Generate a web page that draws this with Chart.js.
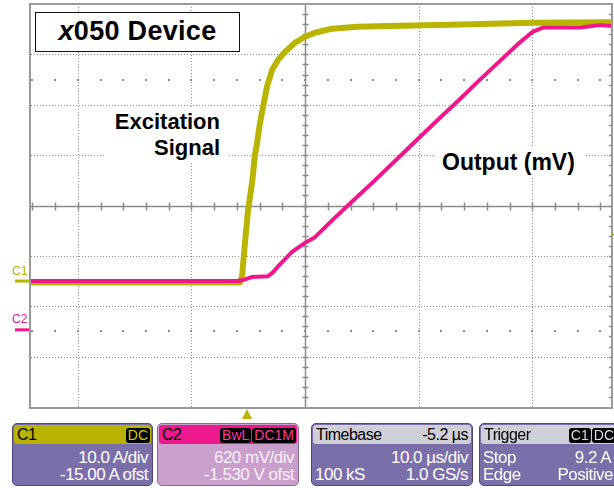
<!DOCTYPE html>
<html>
<head>
<meta charset="utf-8">
<script src="https://cdn.jsdelivr.net/npm/chart.js@4"></script>
<style>
  html,body{margin:0;padding:0;background:#fff;}
  body{width:614px;height:488px;overflow:hidden;position:relative;font-family:"Liberation Sans",Arial,sans-serif;}
  #c{position:absolute;left:0;top:0;}
  .ann{position:absolute;background:#fff;color:#000;font-weight:bold;white-space:nowrap;}
  #title{left:35px;top:12px;width:205px;height:40px;box-sizing:border-box;border:1.5px solid #111;text-align:center;font-size:27px;line-height:37px;letter-spacing:0.3px;}
  #title i{font-style:italic;}
  #exc{left:105px;top:109px;width:123px;height:53px;text-align:right;font-size:22px;line-height:26px;box-sizing:border-box;padding-right:8px;}
  #out{left:435px;top:148px;width:149px;height:28px;font-size:23px;line-height:28px;box-sizing:border-box;padding-left:7px;}
  .panel{position:absolute;top:423px;height:63px;border-radius:5px;box-sizing:border-box;border:1px solid #4f4580;overflow:hidden;color:#fff;font-size:17px;letter-spacing:-0.5px;background:#7b6faa;}
  .hdr{position:absolute;left:1px;right:1px;top:1px;height:19px;border-radius:3px;color:#000;font-size:16px;line-height:19px;}
  .hdr .l{position:absolute;left:3px;top:0;}
  .hdr .r{position:absolute;right:1px;top:0;}
  .badge{display:inline-block;background:#000;border-radius:3px;height:15px;line-height:15px;margin-top:2px;padding:0 2px;font-size:14px;letter-spacing:0;margin-left:1px;}
  .row{position:absolute;left:3px;right:4px;height:17px;line-height:17px;white-space:nowrap;}
  .row .l{position:absolute;left:0;}
  .row .r{position:absolute;right:0;}
</style>
</head>
<body>
<canvas id="c" width="614" height="488"></canvas>

<div class="ann" id="title"><i>x</i>050 Device</div>
<div class="ann" id="exc">Excitation<br>Signal</div>
<div class="ann" id="out">Output (mV)</div>

<div class="panel" style="left:12px;width:141px;">
  <div class="hdr" style="background:#b7b300;"><span class="l">C1</span><span class="r"><span class="badge" style="color:#d4d000;">DC</span></span></div>
  <div class="row" style="top:25px;"><span class="r">10.0 A/div</span></div>
  <div class="row" style="top:42px;"><span class="r">-15.00 A ofst</span></div>
</div>
<div class="panel" style="left:157px;width:142px;background:#c9a0cc;border-color:#8a6a95;">
  <div class="hdr" style="background:#ec1a8c;"><span class="l">C2</span><span class="r"><span class="badge" style="color:#ff3aa0;">BwL</span><span class="badge" style="color:#ff3aa0;">DC1M</span></span></div>
  <div class="row" style="top:25px;color:#fbeefb;"><span class="r">620 mV/div</span></div>
  <div class="row" style="top:42px;color:#fbeefb;"><span class="r">-1.530 V ofst</span></div>
</div>
<div class="panel" style="left:311px;width:162px;">
  <div class="hdr" style="background:#cfcfd8;"><span class="l">Timebase</span><span class="r" style="right:3px;">-5.2 µs</span></div>
  <div class="row" style="top:25px;"><span class="r">10.0 µs/div</span></div>
  <div class="row" style="top:42px;"><span class="l">100 kS</span><span class="r">1.0 GS/s</span></div>
</div>
<div class="panel" style="left:479px;width:142px;">
  <div class="hdr" style="background:#cfcfd8;"><span class="l">Trigger</span><span class="r" style="right:3px;"><span class="badge" style="color:#ddd;">C1</span><span class="badge" style="color:#ddd;">DC</span></span></div>
  <div class="row" style="top:25px;"><span class="l">Stop</span><span class="r" style="right:5px;">9.2 A</span></div>
  <div class="row" style="top:42px;"><span class="l">Edge</span><span class="r" style="right:3px;">Positive</span></div>
</div>

<script>
// ---- data (time in µs relative to trigger, C1 in A, C2 in V) ----
const c1TimeUs = [-18.93, -0.53, -0.35, -0.09, 0.18, 0.53, 0.79, 0.97, 1.23, 1.50, 1.85, 2.29, 2.82, 3.43, 4.31, 5.19, 6.07, 7.57, 9.77, 13.56, 17.96, 25.26, 32.22];
const c1Amps   = [-0.3, -0.3, 0.9, 7.6, 14.1, 19.5, 25.1, 27.4, 31.4, 34.6, 38.6, 41.9, 43.9, 45.5, 47.3, 48.5, 49.3, 50.1, 50.5, 50.7, 50.9, 51.3, 51.4];
const c2TimeUs = [-18.93, -0.70, -0.09, 0.53, 1.94, 2.38, 2.82, 4.05, 5.19, 6.07, 7.83, 9.51, 11.27, 12.68, 15.05, 17.08, 18.84, 20.60, 22.36, 24.12, 25.26, 26.14, 29.40, 31.16, 32.22];
const c2Volts  = [0.60, 0.60, 0.62, 0.65, 0.66, 0.71, 0.78, 0.96, 1.07, 1.14, 1.38, 1.60, 1.83, 2.02, 2.34, 2.61, 2.84, 3.08, 3.31, 3.54, 3.67, 3.72, 3.72, 3.75, 3.74];

// scale / grid values
const timeRangeUs = [-18.93, 32.22];
const ampRange = [-25, 55];          // 10 A/div, -15 A offset
const voltRange = [-0.95, 4.01];     // 620 mV/div, -1.530 V offset
const centerTimeUs = 5.2;
const centerAmps = 15;
const timeGridUs = [-14.8, -4.8, 15.2, 25.2];
const ampGrid = [-15, -5, 5, 25, 35, 45];
const ampDotRows = [-10, 40];
const triggerTimeUs = 0;
const triggerLevelA = 9.2;

const YEL = '#b8b400';
const PINK = '#f2168b';
const GRID = '#8a8a8a';

const scopeGrid = {
  id: 'scopeGrid',
  beforeDatasetsDraw(chart) {
    const {ctx, chartArea: a, scales} = chart;
    const x = scales.x, yA = scales.yA;
    ctx.save();
    ctx.fillStyle = '#fff';
    ctx.fillRect(a.left, a.top, a.right - a.left, a.bottom - a.top);
    ctx.strokeStyle = GRID;
    ctx.lineWidth = 1;
    ctx.setLineDash([1, 2]);
    timeGridUs.forEach(t => {
      const px = Math.round(x.getPixelForValue(t)) + 0.5;
      ctx.beginPath(); ctx.moveTo(px, a.top); ctx.lineTo(px, a.bottom); ctx.stroke();
    });
    ampGrid.forEach(v => {
      const py = Math.round(yA.getPixelForValue(v)) + 0.5;
      ctx.beginPath(); ctx.moveTo(a.left, py); ctx.lineTo(a.right, py); ctx.stroke();
    });
    ctx.setLineDash([]);
    // dotted rows
    ctx.fillStyle = GRID;
    for (let k = -20; k <= 20; k++) {
      const t = centerTimeUs + 2 * k;
      if (t <= x.min || t >= x.max) continue;
      const px = Math.round(x.getPixelForValue(t));
      ampDotRows.forEach(v => {
        const py = Math.round(yA.getPixelForValue(v));
        ctx.fillRect(px - 1, py - 1, 2, 2);
      });
    }
    // center axes
    const cx = Math.round(x.getPixelForValue(centerTimeUs)) + 0.5;
    const cy = Math.round(yA.getPixelForValue(centerAmps)) + 0.5;
    ctx.strokeStyle = GRID;
    ctx.lineWidth = 1.5;
    ctx.beginPath();
    ctx.moveTo(cx, a.top); ctx.lineTo(cx, a.bottom);
    ctx.moveTo(a.left, cy); ctx.lineTo(a.right, cy);
    ctx.stroke();
    ctx.beginPath();
    for (let k = -20; k <= 20; k++) {
      const t = centerTimeUs + 2 * k;
      if (t <= x.min || t >= x.max) continue;
      const px = Math.round(x.getPixelForValue(t)) + 0.5;
      ctx.moveTo(px, cy - 4); ctx.lineTo(px, cy + 4);
    }
    for (let k = -20; k <= 20; k++) {
      const v = centerAmps + 2 * k;
      if (v <= yA.min || v >= yA.max) continue;
      const py = Math.round(yA.getPixelForValue(v)) + 0.5;
      ctx.moveTo(cx - 3, py); ctx.lineTo(cx + 3, py);
      ctx.moveTo(a.right - 3, py); ctx.lineTo(a.right, py);
    }
    ctx.stroke();
    ctx.restore();
  },
  afterDraw(chart) {
    const {ctx, chartArea: a, scales} = chart;
    const x = scales.x, yA = scales.yA, yV = scales.yV;
    ctx.save();
    ctx.strokeStyle = '#9a9a9a';
    ctx.lineWidth = 2;
    ctx.strokeRect(a.left - 1, a.top, a.right - a.left + 1, a.bottom - a.top + 1);
    // channel ground markers
    const g1 = yA.getPixelForValue(0);
    const g2 = yV.getPixelForValue(0);
    ctx.lineWidth = 3;
    ctx.strokeStyle = YEL;
    ctx.beginPath(); ctx.moveTo(15, g1); ctx.lineTo(a.left - 2, g1); ctx.stroke();
    ctx.strokeStyle = PINK;
    ctx.beginPath(); ctx.moveTo(15, g2); ctx.lineTo(a.left - 2, g2); ctx.stroke();
    ctx.font = '12px "Liberation Sans", Arial, sans-serif';
    ctx.textBaseline = 'alphabetic';
    ctx.fillStyle = YEL; ctx.fillText('C1', 12, g1 - 6);
    ctx.fillStyle = PINK; ctx.fillText('C2', 12, g2 - 7);
    // trigger position marker
    const tp = x.getPixelForValue(triggerTimeUs) + 1;
    ctx.fillStyle = YEL;
    ctx.beginPath();
    ctx.moveTo(tp, a.bottom + 2); ctx.lineTo(tp + 5, a.bottom + 12); ctx.lineTo(tp - 5, a.bottom + 12);
    ctx.closePath(); ctx.fill();
    // trigger level marker
    const tl = yA.getPixelForValue(triggerLevelA);
    ctx.fillRect(a.right, tl - 1, 2, 2);
    ctx.restore();
  }
};

const toPts = (xs, ys) => xs.map((t, i) => ({x: t, y: ys[i]}));

new Chart(document.getElementById('c'), {
  type: 'line',
  data: {
    datasets: [
      {label: 'Output (mV)', data: toPts(c2TimeUs, c2Volts), yAxisID: 'yV', borderColor: PINK, borderWidth: 4,
       pointRadius: 0, tension: 0, borderJoinStyle: 'round', borderCapStyle: 'round', order: 0},
      {label: 'Excitation Signal', data: toPts(c1TimeUs, c1Amps), yAxisID: 'yA', borderColor: YEL, borderWidth: 6,
       pointRadius: 0, tension: 0, borderJoinStyle: 'round', borderCapStyle: 'round', order: 1}
    ]
  },
  options: {
    responsive: false,
    animation: false,
    devicePixelRatio: 1,
    events: [],
    layout: {padding: {left: 31, top: 4, right: 2, bottom: 81}},
    scales: {
      x: {type: 'linear', display: false, min: timeRangeUs[0], max: timeRangeUs[1]},
      yA: {type: 'linear', display: false, min: ampRange[0], max: ampRange[1]},
      yV: {type: 'linear', display: false, min: voltRange[0], max: voltRange[1]}
    },
    plugins: {legend: {display: false}, tooltip: {enabled: false}}
  },
  plugins: [scopeGrid]
});
</script>
</body>
</html>
